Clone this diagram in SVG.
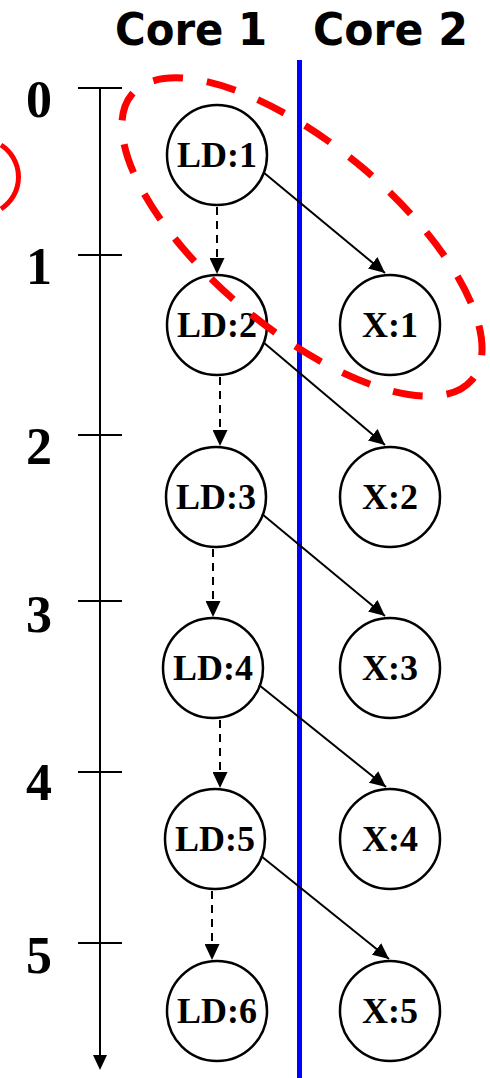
<svg xmlns="http://www.w3.org/2000/svg" width="490" height="1078" viewBox="0 0 490 1078">
<style>
.title{font-family:"DejaVu Sans",Verdana,sans-serif;font-weight:bold;font-size:44px;fill:#000}
.tick{font-family:"Liberation Serif","Times New Roman",serif;font-weight:bold;font-size:52px;fill:#000;text-anchor:middle}
.node circle{fill:#fff;stroke:#000;stroke-width:2.5}
.node text{font-family:"Liberation Serif","Times New Roman",serif;font-weight:bold;font-size:36px;fill:#000;text-anchor:middle}
.dep{stroke:#000;stroke-width:2;fill:none}
.dash{stroke-dasharray:8 6}
</style>
<defs>
<marker id="ah" viewBox="0 0 16 15" refX="16" refY="7.5" markerWidth="16" markerHeight="15" markerUnits="userSpaceOnUse" orient="auto">
<path d="M0 0L16 7.5L0 15z" fill="#000"/>
</marker>
</defs>
<text class="title" x="115" y="45" textLength="152" lengthAdjust="spacingAndGlyphs">Core 1</text>
<text class="title" x="313" y="45" textLength="155" lengthAdjust="spacingAndGlyphs">Core 2</text>
<g id="axis" stroke="#000" stroke-width="2">
<line x1="100" y1="88" x2="100" y2="1058"/>
<path d="M93 1055L107 1055L100 1070z" fill="#000" stroke="none"/>
<line x1="78" y1="88" x2="122" y2="88"/>
<line x1="78" y1="255" x2="122" y2="255"/>
<line x1="78" y1="435" x2="122" y2="435"/>
<line x1="78" y1="601" x2="122" y2="601"/>
<line x1="78" y1="772" x2="122" y2="772"/>
<line x1="78" y1="943" x2="122" y2="943"/>
</g>
<g id="ticks">
<text class="tick" x="39" y="117">0</text>
<text class="tick" x="39" y="284">1</text>
<text class="tick" x="39" y="464">2</text>
<text class="tick" x="39" y="632">3</text>
<text class="tick" x="39" y="800">4</text>
<text class="tick" x="39" y="973">5</text>
</g>
<line id="divider" x1="299.5" y1="60" x2="299.5" y2="1078" stroke="#0000ff" stroke-width="5"/>
<g id="LD1" class="node"><circle cx="217" cy="155" r="50"/><text x="217" y="167">LD:1</text></g>
<g id="LD2" class="node"><circle cx="217" cy="325" r="50"/><text x="217" y="337">LD:2</text></g>
<g id="LD3" class="node"><circle cx="216" cy="497" r="50"/><text x="216" y="509">LD:3</text></g>
<g id="LD4" class="node"><circle cx="213" cy="668" r="50"/><text x="213" y="680">LD:4</text></g>
<g id="LD5" class="node"><circle cx="215" cy="839" r="50"/><text x="215" y="851">LD:5</text></g>
<g id="LD6" class="node"><circle cx="217" cy="1011" r="50"/><text x="217" y="1023">LD:6</text></g>
<g id="X1" class="node"><circle cx="390" cy="325" r="50"/><text x="390" y="337">X:1</text></g>
<g id="X2" class="node"><circle cx="390" cy="497" r="50"/><text x="390" y="509">X:2</text></g>
<g id="X3" class="node"><circle cx="390" cy="668" r="50"/><text x="390" y="680">X:3</text></g>
<g id="X4" class="node"><circle cx="390" cy="839" r="50"/><text x="390" y="851">X:4</text></g>
<g id="X5" class="node"><circle cx="390" cy="1011" r="50"/><text x="390" y="1023">X:5</text></g>
<g id="connectors">
<line class="dep dash" x1="217" y1="207" x2="217" y2="274" marker-end="url(#ah)"/>
<line class="dep dash" x1="220" y1="377" x2="220" y2="446" marker-end="url(#ah)"/>
<line class="dep dash" x1="213" y1="549" x2="213" y2="617" marker-end="url(#ah)"/>
<line class="dep dash" x1="220" y1="720" x2="220" y2="788" marker-end="url(#ah)"/>
<line class="dep dash" x1="212" y1="891" x2="212" y2="960" marker-end="url(#ah)"/>
<line class="dep" x1="263" y1="172" x2="385" y2="273" marker-end="url(#ah)"/>
<line class="dep" x1="263" y1="342" x2="385" y2="445" marker-end="url(#ah)"/>
<line class="dep" x1="262" y1="514" x2="385" y2="616" marker-end="url(#ah)"/>
<line class="dep" x1="259" y1="685" x2="386" y2="787" marker-end="url(#ah)"/>
<line class="dep" x1="261" y1="856" x2="389" y2="959" marker-end="url(#ah)"/>
</g>
<g id="highlight" fill="none" stroke="#ff0000">
<ellipse cx="302" cy="237" rx="222" ry="92" transform="rotate(40 302 237)" stroke-width="7" stroke-dasharray="30 24"/>
<path d="M1 145A38 38 0 0 1 1 209" stroke-width="5"/>
</g>
</svg>
